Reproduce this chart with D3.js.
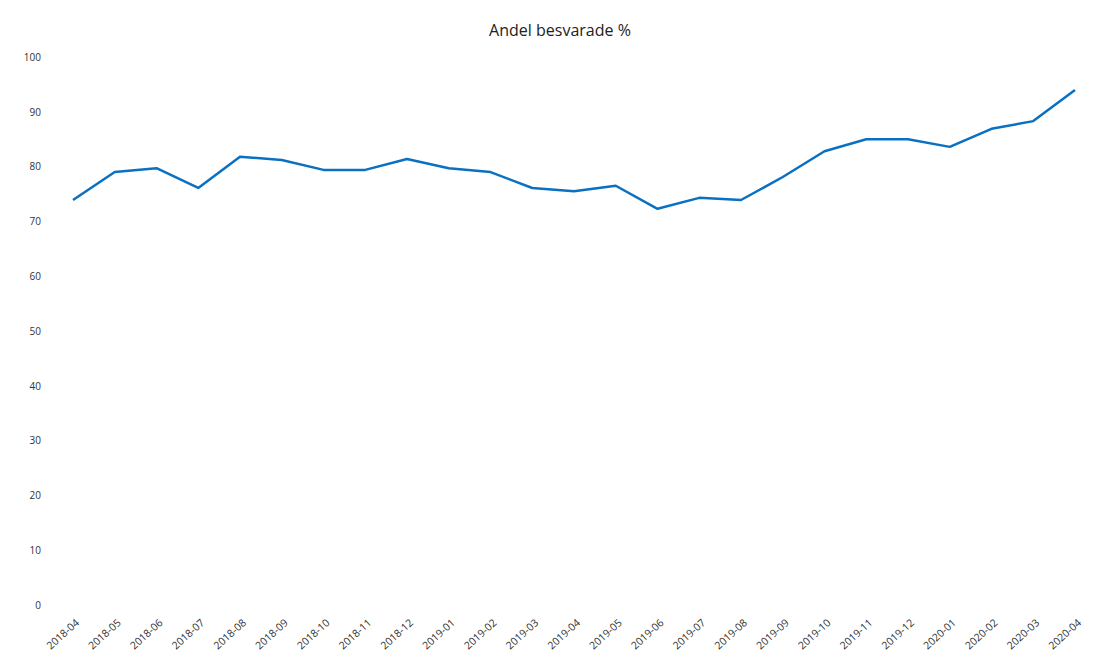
<!DOCTYPE html>
<html lang="sv">
<head>
  <meta charset="UTF-8" />
  <title>Andel besvarade %</title>
  <style>
    body { margin: 0; background: #fff; }
    text { font-family: "Open Sans", "DejaVu Sans", sans-serif; }
    .axis text { fill: #333; font-size: 10px; }
    .x-axis text { font-size: 10.5px; }
    .title { font-size: 16px; fill: #222; }
  </style>
</head>
<body>
  <script src="https://d3js.org/d3.v7.min.js"></script>
  <script>
    const months = [
      "2018-04", "2018-05", "2018-06", "2018-07", "2018-08", "2018-09",
      "2018-10", "2018-11", "2018-12", "2019-01", "2019-02", "2019-03",
      "2019-04", "2019-05", "2019-06", "2019-07", "2019-08", "2019-09",
      "2019-10", "2019-11", "2019-12", "2020-01", "2020-02", "2020-03", "2020-04"
    ];
    const share = [
      73.9, 79.0, 79.7, 76.1, 81.8, 81.2,
      79.4, 79.4, 81.4, 79.7, 79.0, 76.1,
      75.5, 76.5, 72.3, 74.3, 73.9, 78.1,
      82.8, 85.0, 85.0, 83.6, 86.9, 88.3, 94.0
    ];
    const yTicks = [0, 10, 20, 30, 40, 50, 60, 70, 80, 90, 100];

    const width = 1104, height = 654;
    const svg = d3.select("body").append("svg")
      .attr("width", width)
      .attr("height", height);

    const x = d3.scalePoint().domain(months).range([73, 1075]);
    const y = d3.scaleLinear().domain([0, 100]).range([605, 57]);

    // title
    svg.append("text")
      .attr("class", "title")
      .attr("x", 560)
      .attr("y", 36)
      .attr("text-anchor", "middle")
      .text("Andel besvarade %");

    // y axis, labels only
    const yAxis = svg.append("g")
      .attr("class", "axis")
      .attr("transform", "translate(41,0)")
      .call(d3.axisLeft(y).tickValues(yTicks).tickSize(0).tickPadding(0));
    yAxis.select(".domain").remove();

    // x axis, rotated labels
    const xAxis = svg.append("g")
      .attr("class", "axis x-axis")
      .attr("transform", "translate(0,617)")
      .call(d3.axisBottom(x).tickSize(0).tickPadding(0));
    xAxis.select(".domain").remove();
    xAxis.selectAll("text")
      .attr("text-anchor", "end")
      .attr("dy", "0.35em")
      .attr("transform", "translate(4,4) rotate(-42)");

    const line = d3.line()
      .x((d, i) => x(months[i]))
      .y(d => y(d));

    svg.append("path")
      .datum(share)
      .attr("fill", "none")
      .attr("stroke", "#0a70c2")
      .attr("stroke-width", 2.5)
      .attr("stroke-linejoin", "round")
      .attr("d", line);
  </script>
</body>
</html>
